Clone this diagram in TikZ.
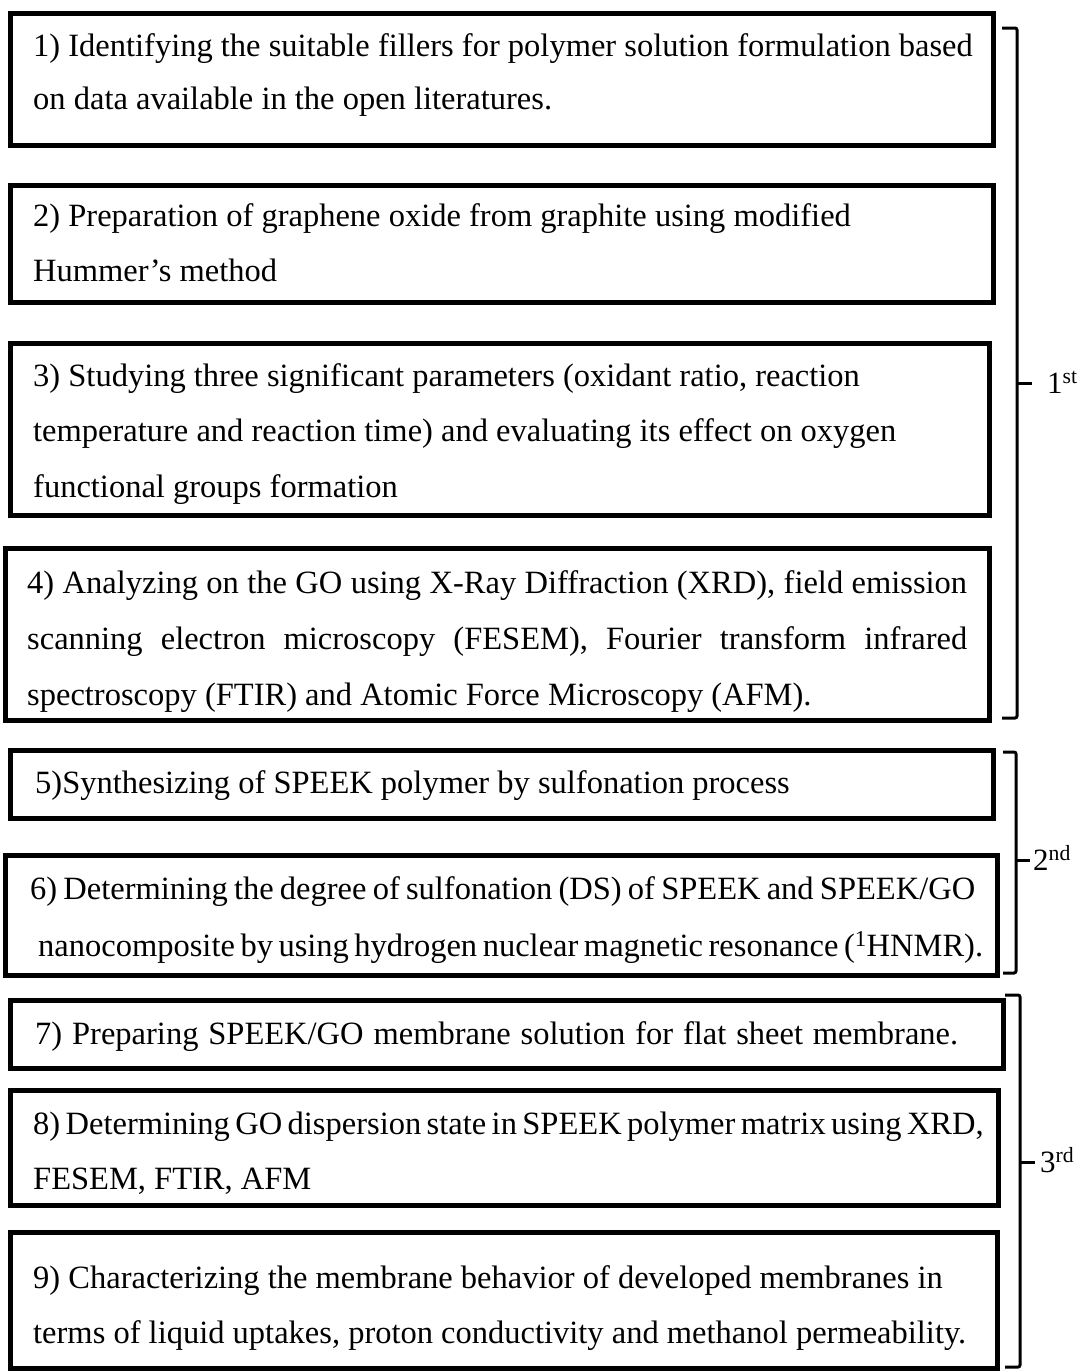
\documentclass[tikz,border=0pt]{standalone}
\usepackage{fontspec}
\setmainfont{Liberation Serif}
\begin{document}
\begin{tikzpicture}[x=1pt,y=-1pt,
  box/.style={draw=black, line width=5pt, inner sep=0pt},
  brk/.style={draw=black, line width=3pt, rounded corners=2pt},
  txt/.style={anchor=base west, inner sep=0pt, font=\fontsize{32.5}{38}\selectfont},
  lbl/.style={anchor=base west, inner sep=0pt, font=\fontsize{31}{36}\selectfont}]
\useasboundingbox (0,0) rectangle (1077,1371);
% boxes
\node[box, minimum width=983pt, minimum height=132pt] (b1) at (501.5,79) {};
\node[box, minimum width=983pt, minimum height=117pt] (b2) at (501.5,243.5) {};
\node[box, minimum width=979pt, minimum height=172pt] (b3) at (499.5,429) {};
\node[box, minimum width=984pt, minimum height=172pt] (b4) at (497,634) {};
\node[box, minimum width=983pt, minimum height=68pt] (b5) at (501.5,784) {};
\node[box, minimum width=992pt, minimum height=120pt] (b6) at (501,915) {};
\node[box, minimum width=993pt, minimum height=68pt] (b7) at (506.5,1034) {};
\node[box, minimum width=988pt, minimum height=115pt] (b8) at (504,1147.5) {};
\node[box, minimum width=987pt, minimum height=136pt] (b9) at (503.5,1300) {};
% texts
\node[txt] (t1a) at (33,56) {1) Identifying the suitable fillers for polymer solution formulation based};
\node[txt] (t1b) at (33,109) {on data available in the open literatures.};
\node[txt] (t2a) at (33,226) {2) Preparation of graphene oxide from graphite using modified};
\node[txt] (t2b) at (33,281) {Hummer’s method};
\node[txt] (t3a) at (33,386) {3) Studying three significant parameters (oxidant ratio, reaction};
\node[txt] (t3b) at (33,441) {temperature and reaction time) and evaluating its effect on oxygen};
\node[txt] (t3c) at (33,497) {functional groups formation};
\node[txt] (t4a) at (27,593) {\makebox[940pt][s]{4) Analyzing on the GO using X-Ray Diffraction (XRD), field emission}};
\node[txt] (t4b) at (27,649) {\makebox[940pt][s]{scanning electron microscopy (FESEM), Fourier transform infrared}};
\node[txt] (t4c) at (27,705) {spectroscopy (FTIR) and Atomic Force Microscopy (AFM).};
\node[txt] (t5) at (35,793) {5)Synthesizing of SPEEK polymer by sulfonation process};
\node[txt] (t6a) at (30,899) {\makebox[945pt][s]{6) Determining the degree of sulfonation (DS) of SPEEK and SPEEK/GO}};
\node[txt] (t6b) at (38,956) {\makebox[945pt][s]{nanocomposite by using hydrogen nuclear magnetic resonance (\textsuperscript{1}HNMR).}};
\node[txt] (t7) at (35,1044) {\makebox[923pt][s]{7) Preparing SPEEK/GO membrane solution for flat sheet membrane.}};
\node[txt] (t8a) at (33,1134) {\makebox[949pt][s]{8) Determining GO dispersion state in SPEEK polymer matrix using XRD,}};
\node[txt] (t8b) at (33,1189) {FESEM, FTIR, AFM};
\node[txt] (t9a) at (33,1288) {9) Characterizing the membrane behavior of developed membranes in};
\node[txt] (t9b) at (33,1343) {terms of liquid uptakes, proton conductivity and methanol permeability.};
% brackets
\coordinate (k1) at (1032,383);
\coordinate (k2) at (1030,860);
\coordinate (k3) at (1035,1162);
\draw[brk] (1002,28) -- (1017,28) -- (1017,718) -- (1002,718);
\draw[brk] (1017,383) -- (k1);
\draw[brk] (1003,752) -- (1016,752) -- (1016,973) -- (1003,973);
\draw[brk] (1016,860) -- (k2);
\draw[brk] (1005,995) -- (1020,995) -- (1020,1367) -- (1005,1367);
\draw[brk] (1020,1162) -- (k3);
\node[lbl] (l1) at (1047,393) {1\textsuperscript{st}};
\node[lbl] (l2) at (1033,870) {2\textsuperscript{nd}};
\node[lbl] (l3) at (1040,1172) {3\textsuperscript{rd}};
\end{tikzpicture}
\end{document}
